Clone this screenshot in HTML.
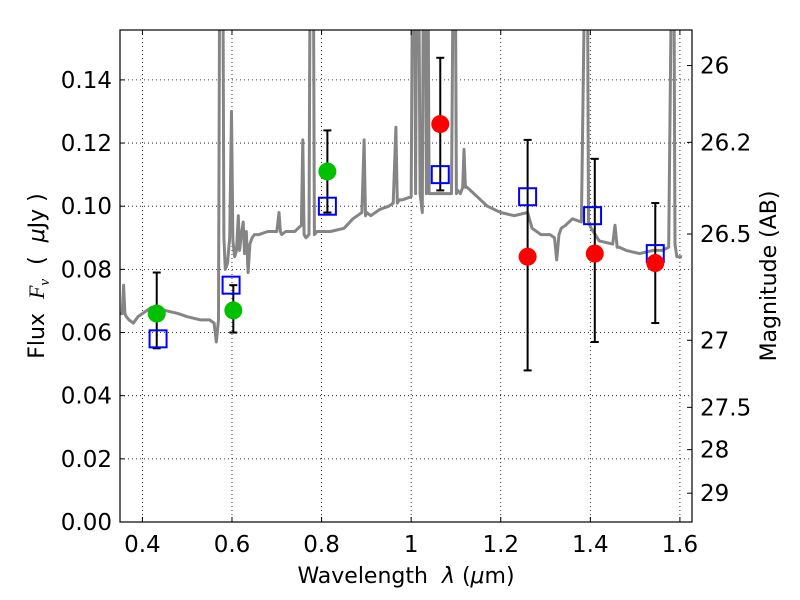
<!DOCTYPE html>
<html><head><meta charset="utf-8">
<style>
html,body{margin:0;padding:0;background:#fff;}
svg{display:block;font-family:"DejaVu Sans","Liberation Sans",sans-serif;}
</style></head>
<body>
<svg id="chart" width="800" height="600" viewBox="0 0 800 600" xmlns="http://www.w3.org/2000/svg">
<rect x="0" y="0" width="800" height="600" fill="#fff"/>
<defs><clipPath id="plotclip"><rect x="120" y="30" width="572" height="492"/></clipPath></defs>
<g id="grid"></g>
<g id="spec" clip-path="url(#plotclip)"></g>
<g id="marks"></g>
<g id="axes"></g>
<text x="406" y="583" font-size="22" text-anchor="middle" xml:space="preserve">Wavelength  <tspan font-style="italic">λ</tspan> (<tspan font-style="italic">μ</tspan>m)</text>
<text transform="translate(44,276) rotate(-90)" font-size="22" text-anchor="middle" xml:space="preserve">Flux  <tspan font-style="italic" font-family="Liberation Serif">F</tspan><tspan font-style="italic" font-size="15" dy="5" font-family="Liberation Serif">ν</tspan><tspan dy="-5">  (  </tspan><tspan font-style="italic">μ</tspan>Jy )</text>
<text transform="translate(776,276) rotate(-90)" font-size="22" text-anchor="middle">Magnitude (AB)</text>
</svg>
<script>
const xTicks=[0.4,0.6,0.8,1.0,1.2,1.4,1.6];
const xTickLabels=["0.4","0.6","0.8","1","1.2","1.4","1.6"];
const yTicks=[0,0.02,0.04,0.06,0.08,0.10,0.12,0.14];
const yTickLabels=["0.00","0.02","0.04","0.06","0.08","0.10","0.12","0.14"];
const magTicks=[26,26.2,26.5,27,27.5,28,29];
const magTickLabels=["26","26.2","26.5","27","27.5","28","29"];
const specLam=[0.35,0.355,0.358,0.361,0.364,0.37,0.38,0.39,0.40,0.42,0.45,0.48,0.50,0.53,0.55,0.56,0.565,0.570,0.573,0.576,0.579,0.582,0.585,0.59,0.595,0.599,0.602,0.606,0.61,0.614,0.617,0.62,0.625,0.628,0.632,0.636,0.64,0.645,0.65,0.66,0.68,0.70,0.705,0.708,0.711,0.72,0.74,0.755,0.758,0.761,0.765,0.772,0.775,0.778,0.781,0.784,0.79,0.80,0.82,0.85,0.87,0.89,0.895,0.898,0.901,0.91,0.93,0.95,0.96,0.966,0.969,0.973,0.98,1.0,1.004,1.007,1.010,1.013,1.016,1.02,1.025,1.028,1.031,1.034,1.037,1.04,1.05,1.07,1.09,1.095,1.098,1.101,1.104,1.11,1.115,1.118,1.121,1.125,1.14,1.17,1.2,1.23,1.26,1.27,1.29,1.31,1.32,1.325,1.33,1.335,1.345,1.36,1.38,1.39,1.393,1.396,1.399,1.402,1.42,1.45,1.455,1.46,1.465,1.48,1.51,1.54,1.56,1.575,1.583,1.586,1.589,1.593,1.597,1.605,1.62,1.63];
const specFlux=[0.066,0.066,0.075,0.066,0.065,0.064,0.063,0.065,0.066,0.068,0.067,0.066,0.065,0.064,0.064,0.063,0.057,0.064,0.20,0.20,0.20,0.090,0.080,0.082,0.090,0.130,0.089,0.084,0.086,0.097,0.086,0.090,0.095,0.085,0.092,0.079,0.088,0.090,0.091,0.091,0.092,0.092,0.098,0.092,0.091,0.092,0.092,0.094,0.121,0.091,0.090,0.091,0.20,0.20,0.20,0.091,0.092,0.092,0.092,0.093,0.096,0.098,0.121,0.097,0.098,0.097,0.099,0.100,0.101,0.125,0.101,0.102,0.102,0.103,0.20,0.20,0.104,0.20,0.20,0.104,0.098,0.20,0.20,0.104,0.20,0.104,0.104,0.104,0.104,0.20,0.20,0.104,0.105,0.104,0.106,0.118,0.106,0.106,0.104,0.100,0.098,0.097,0.098,0.093,0.091,0.091,0.090,0.083,0.091,0.093,0.094,0.096,0.095,0.20,0.20,0.095,0.094,0.093,0.089,0.088,0.094,0.087,0.087,0.086,0.085,0.086,0.086,0.087,0.20,0.20,0.088,0.084,0.084,0.084];
const phLam=[0.432,0.603,0.813,1.065,1.26,1.41,1.545];
const phFlux=[0.066,0.067,0.111,0.126,0.084,0.085,0.082];
const errLo=[0.055,0.060,0.098,0.105,0.048,0.057,0.063];
const errHi=[0.079,0.075,0.124,0.147,0.121,0.115,0.101];
const modLam=[0.435,0.598,0.813,1.065,1.26,1.405,1.545];
const modFlux=[0.058,0.075,0.100,0.110,0.103,0.097,0.085];

const NS="http://www.w3.org/2000/svg";
const L=120,R=692,T=30,B=522,XMIN=0.350,XMAX=1.627,YMIN=0,YMAX=0.1558;
const xs=v=>L+(v-XMIN)/(XMAX-XMIN)*(R-L);
const ys=v=>B-(v-YMIN)/(YMAX-YMIN)*(B-T);
const magToFlux=m=>Math.pow(10,(23.9-m)/2.5);
function mk(tag,attrs,parent){const e=document.createElementNS(NS,tag);for(const k in attrs)e.setAttribute(k,attrs[k]);parent.appendChild(e);return e;}
const grid=document.getElementById('grid'),axes=document.getElementById('axes'),spec=document.getElementById('spec'),marks=document.getElementById('marks');

xTicks.forEach((t,i)=>{const x=xs(t);
 const g=mk('line',{x1:x,x2:x,y1:T,y2:B,stroke:'#000','stroke-width':0.8,'stroke-dasharray':'1,3'},grid);
 
 
 mk('line',{x1:x,x2:x,y1:B,y2:B-5,stroke:'#000'},axes);
 mk('line',{x1:x,x2:x,y1:T,y2:T+5,stroke:'#000'},axes);
 const tx=mk('text',{x:x,y:B+30,'font-size':23,'text-anchor':'middle'},axes);tx.textContent=xTickLabels[i];
 
 
});
yTicks.forEach((t,i)=>{const y=ys(t);
 const g=mk('line',{x1:L,x2:R,y1:y,y2:y,stroke:'#000','stroke-width':0.8,'stroke-dasharray':'1,3'},grid);
 
 
 mk('line',{x1:L,x2:L+5,y1:y,y2:y,stroke:'#000'},axes);
 const tx=mk('text',{x:L-8,y:y+8,'font-size':23,'text-anchor':'end'},axes);tx.textContent=yTickLabels[i];
 
 
});
magTicks.forEach((m,i)=>{const y=ys(magToFlux(m));
 mk('line',{x1:R,x2:R-5,y1:y,y2:y,stroke:'#000'},axes);
 const tx=mk('text',{x:R+8,y:y+8,'font-size':23,'text-anchor':'start'},axes);tx.textContent=magTickLabels[i];
 
 
});
mk('rect',{x:L,y:T,width:R-L,height:B-T,fill:'none',stroke:'#000','stroke-width':1.2},axes);

let d='';specLam.forEach((l,i)=>{d+=(i?'L':'M')+xs(l).toFixed(1)+','+ys(specFlux[i]).toFixed(1);});
const sp=mk('path',{d:d,fill:'none',stroke:'#858585','stroke-width':3,'stroke-linejoin':'round'},spec);



phLam.forEach((l,i)=>{const x=xs(l);
 const y1=ys(errLo[i]),y2=ys(errHi[i]);
 const e=mk('line',{x1:x,x2:x,y1:y1,y2:y2,stroke:'#000','stroke-width':2},marks);
 
 
 mk('line',{x1:x-4,x2:x+4,y1:y1,y2:y1,stroke:'#000','stroke-width':2},marks);
 mk('line',{x1:x-4,x2:x+4,y1:y2,y2:y2,stroke:'#000','stroke-width':2},marks);
});
modLam.forEach((l,i)=>{
 const s=mk('rect',{x:xs(l)-8.5,y:ys(modFlux[i])-8.5,width:17,height:17,fill:'none',stroke:'#0000ff','stroke-width':2},marks);
 
 
});
phLam.forEach((l,i)=>{
 const c=mk('circle',{cx:xs(l),cy:ys(phFlux[i]),r:9,fill:l<1?'#00c000':'#ff0000'},marks);
 
 
});
</script>
</body></html>
